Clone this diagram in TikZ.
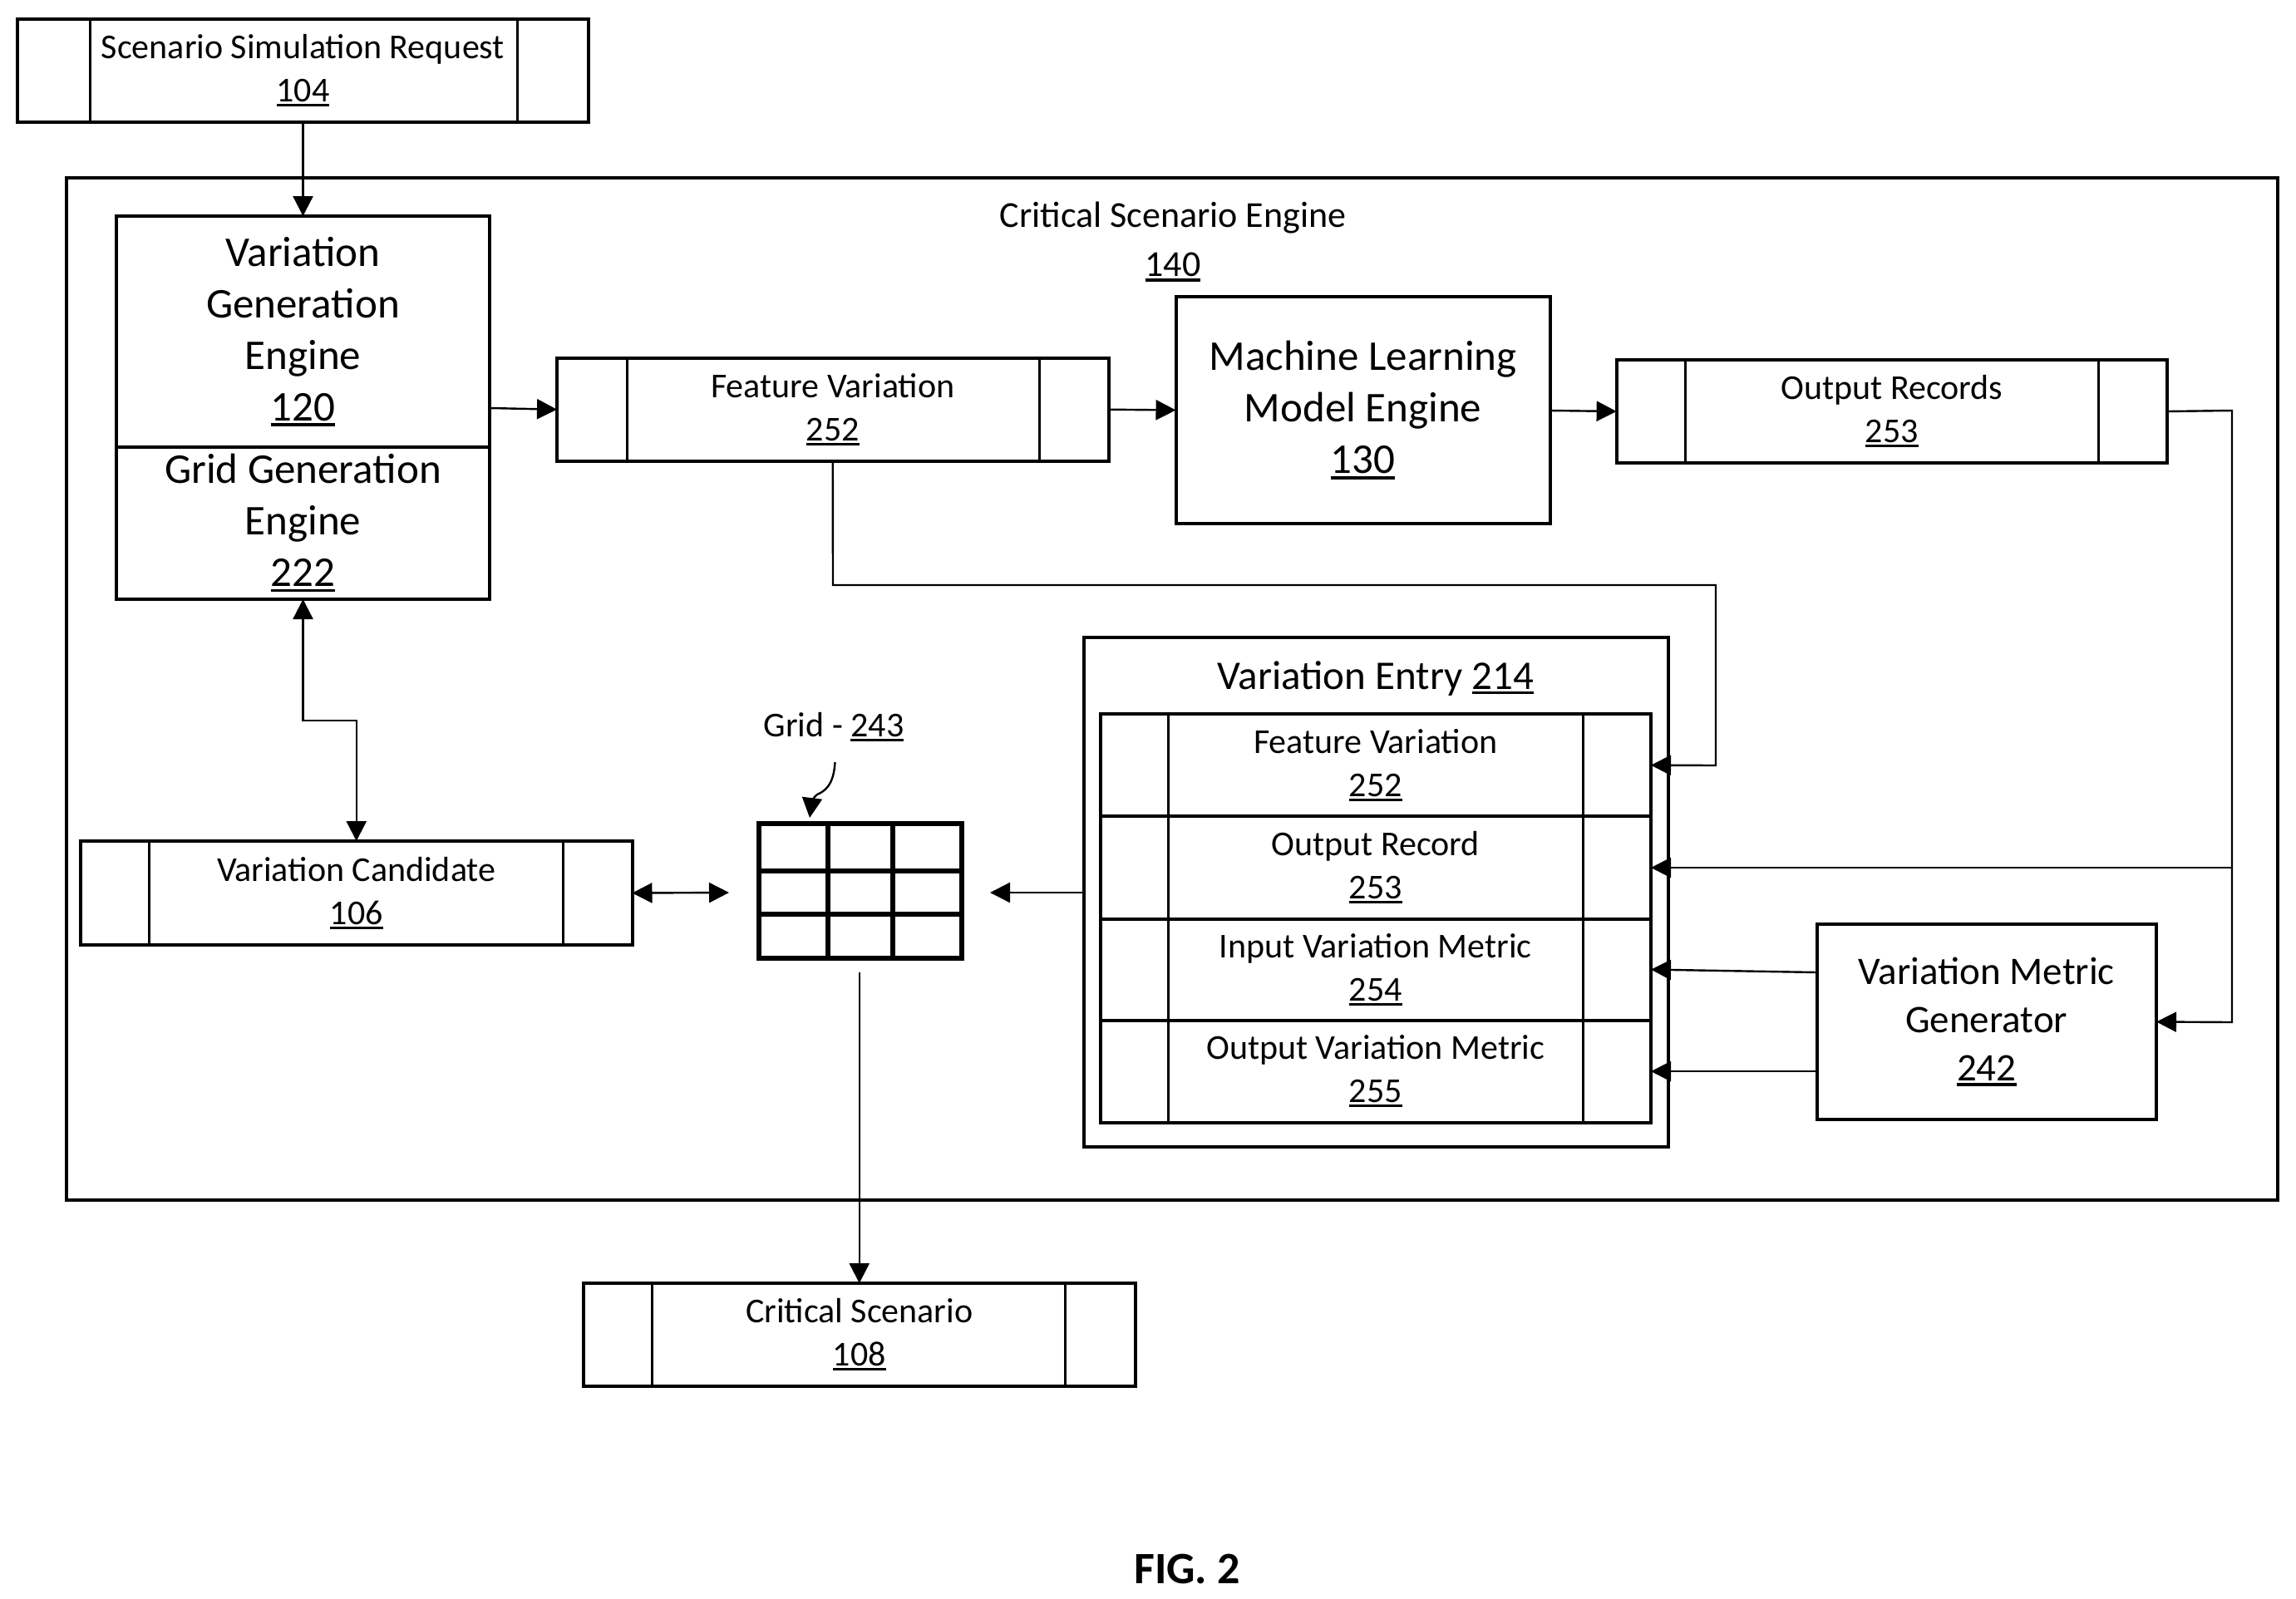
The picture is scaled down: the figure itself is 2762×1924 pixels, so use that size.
\documentclass[tikz,border=0pt]{standalone}
\usepackage{fontspec}
\setmainfont{Carlito}
\usetikzlibrary{arrows.meta}
\newcommand\ulnum[1]{\setbox0=\hbox{#1}\leavevmode\rlap{\rule[-0.13em]{\wd0}{0.075em}}\box0}
\newcommand\fsmall{\fontsize{42}{52}\selectfont}
\newcommand\fmid{\fontsize{47}{58}\selectfont}
\newcommand\fbig{\fontsize{51}{62}\selectfont}
\tikzset{
  boxed/.style={draw=black,line width=4pt,fill=white,inner sep=0pt,outer sep=0pt,align=center},
  divider/.style={draw=black,line width=3pt},
  conn/.style={draw=black,line width=2.4pt,-{Triangle[length=24pt,width=24pt]}},
  biconn/.style={draw=black,line width=2.4pt,{Triangle[length=24pt,width=24pt]}-{Triangle[length=24pt,width=24pt]}},
  wire/.style={draw=black,line width=2.4pt},
  gridline/.style={draw=black,line width=6pt},
  plain/.style={inner sep=0pt,outer sep=0pt,align=center}
}
% name, x1, y1, x2, y2, divider1, divider2, text
\newcommand\recbox[8]{%
  \node[boxed,font=\fsmall,minimum width={(#4-#2)*1pt},minimum height={(#5-#3)*1pt}] (#1) at ({(#2+#4)/2},{(#3+#5)/2}) {#8};
  \draw[divider] (#1.north -| #6,0) -- (#1.south -| #6,0);
  \draw[divider] (#1.north -| #7,0) -- (#1.south -| #7,0);
}
% name, x1, y1, x2, y2, font, text
\newcommand\plainbox[7]{%
  \node[boxed,font=#6,minimum width={(#4-#2)*1pt},minimum height={(#5-#3)*1pt}] (#1) at ({(#2+#4)/2},{(#3+#5)/2}) {#7};
}
\begin{document}
\begin{tikzpicture}[x=1pt,y=-1pt]
\useasboundingbox (0,0) rectangle (2762,1924);
% outer boxes
\plainbox{engine}{80}{214}{2740}{1444}{\fsmall}{}
\node[plain,font=\fontsize{44}{59}\selectfont] (enginetitle) at (1411,291) {Critical Scenario Engine\\\ulnum{140}};
\recbox{scn}{21}{23}{708}{147}{108}{622}{Scenario Simulation Request\\\ulnum{104}}
\plainbox{vge}{140}{260}{589}{537.6}{\fbig}{Variation\\Generation\\Engine\\\ulnum{120}}
\plainbox{ggen}{140}{537.6}{589}{721}{\fbig}{Grid Generation\\Engine\\\ulnum{222}}
\recbox{feat}{670}{431}{1333.5}{554.5}{754}{1250}{Feature Variation\\\ulnum{252}}
\plainbox{ml}{1414.5}{357}{1864.5}{630}{\fbig}{Machine Learning\\Model Engine\\\ulnum{130}}
\recbox{outr}{1944.6}{433}{2607}{557}{2027.5}{2524}{Output Records\\\ulnum{253}}
\recbox{cand}{97}{1012}{760.5}{1137}{179.6}{677.7}{Variation Candidate\\\ulnum{106}}
\recbox{crit}{702}{1544}{1365.5}{1668}{784.6}{1281.7}{Critical Scenario\\\ulnum{108}}
% variation entry
\plainbox{entry}{1304}{767}{2007}{1380}{\fsmall}{}
\node[plain,font=\fontsize{49}{60}\selectfont] (entrytitle) at (1655,816) {Variation Entry \ulnum{214}};
\recbox{rowf}{1323.5}{859}{1986}{982.4}{1405.7}{1904}{Feature Variation\\\ulnum{252}}
\recbox{rowo}{1323.5}{982.4}{1986}{1105.6}{1405.7}{1904}{Output Record\\\ulnum{253}}
\recbox{rowi}{1323.5}{1105.6}{1986}{1227.5}{1405.7}{1904}{Input Variation Metric\\\ulnum{254}}
\recbox{rowm}{1323.5}{1227.5}{1986}{1350.7}{1405.7}{1904}{Output Variation Metric\\\ulnum{255}}
\plainbox{vmg}{2185.5}{1112}{2594}{1347}{\fmid}{Variation Metric\\Generator\\\ulnum{242}}
% grid
\node[draw=black,line width=6pt,fill=white,inner sep=0pt,outer sep=0pt,minimum width=244pt,minimum height=162pt] (gridbox) at (1035,1072) {};
\draw[gridline] (gridbox.north -| 995.5,0) -- (gridbox.south -| 995.5,0);
\draw[gridline] (gridbox.north -| 1074,0) -- (gridbox.south -| 1074,0);
\draw[gridline] (gridbox.west |- 0,1048) -- (gridbox.east |- 0,1048);
\draw[gridline] (gridbox.west |- 0,1100.4) -- (gridbox.east |- 0,1100.4);
\node[plain,font=\fsmall] (gridlabel) at (1003,875) {Grid - \ulnum{243}};
\coordinate (curvestart) at (1004.5,917);
\coordinate (curveend) at (974,984);
\coordinate (gridin) at (877,1074);
\coordinate (gridright) at (1191,1074);
\coordinate (gridout) at (1033.75,1170);
\coordinate (splitb) at (2685,494);
\coordinate (splitm) at (2685,1044);
\coordinate (splitc) at (2685,1230);
\coordinate (fa) at (1002,704);
\coordinate (fb) at (2064,704);
\coordinate (fc) at (2064,921);
\coordinate (ca) at (428.75,866.7);
\coordinate (cb) at (364.5,866.7);
% connectors
\draw[conn] (scn.south) -- (vge.north);
\draw[conn] (vge.east |- 0,491) -- (feat.west);
\draw[conn] (feat.east) -- (ml.west);
\draw[conn] (ml.east |- 0,494) -- (outr.west);
\draw[biconn] (ggen.south) -- (cb) -- (ca) -- (cand.north);
\draw[biconn] (cand.east) -- (gridin);
\draw[conn] (entry.west |- gridright) -- (gridright);
\draw[conn] (gridout) -- (crit.north);
\draw[conn] (curvestart) .. controls (1003,945) and (992,952) .. (983,956) .. controls (978,959) and (976,968) .. (curveend);
\draw[conn] (feat.south) -- (fa) -- (fb) -- (fc) -- (rowf.east);
\draw[conn] (outr.east) -- (splitb) -- (splitc) -- (vmg.east);
\draw[conn] (splitm) -- (rowo.east);
\draw[conn] (vmg.west |- 0,1170) -- (rowi.east);
\draw[conn] (vmg.west |- rowm.east) -- (rowm.east);
\node[plain,font=\fontsize{54}{60}\selectfont\bfseries] (figlabel) at (1428,1888) {FIG. 2};
\end{tikzpicture}
\end{document}
